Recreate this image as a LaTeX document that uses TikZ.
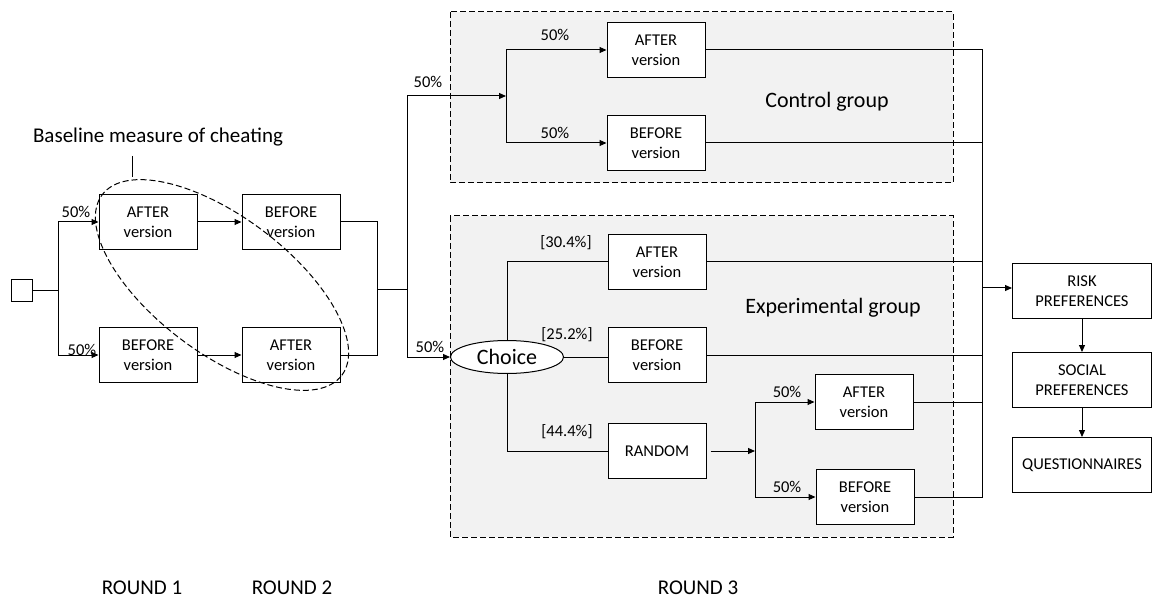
\documentclass[tikz,border=0pt]{standalone}
\usepackage{fontspec}
\setmainfont{Carlito}
\usetikzlibrary{arrows.meta,shapes.geometric}

\begin{document}
\begin{tikzpicture}[x=1pt,y=-1pt,line width=1pt,
  box/.style={draw,fill=white,align=center,minimum width=98pt,minimum height=55pt,inner sep=1pt,font=\fontsize{16.5}{20}\selectfont},
  pct/.style={font=\fontsize{16.5}{20}\selectfont},
  big/.style={font=\fontsize{22}{26}\selectfont},
  rnd/.style={font=\fontsize{21}{25}\selectfont},
  group/.style={draw,dash pattern=on 6pt off 3pt,fill=black!5},
  arr/.style={-{Triangle[length=7pt,width=6pt]}}]
\useasboundingbox (0,0) rectangle (1153,601);

% groups of round 3
\draw[group] (450,12) rectangle (953,183);
\draw[group] (450,216) rectangle (953,537);
\draw (827,102) node[big] (CtrlT) {Control group};
\draw (833,308) node[big] (ExpT) {Experimental group};

% rounds 1 and 2
\draw (22,291) node[draw,minimum width=21pt,minimum height=22pt] (S) {};
\draw (148,222) node[box] (A1) {AFTER\\version};
\draw (291,222) node[box] (B2) {BEFORE\\version};
\draw (148,355) node[box] (B1) {BEFORE\\version};
\draw (291,355) node[box] (A2) {AFTER\\version};
\coordinate (F1) at (58,291);
\coordinate (M1) at (377,290);
\coordinate (F2) at (407,290);

% control group
\draw (656,50) node[box] (CA) {AFTER\\version};
\draw (656,143) node[box] (CB) {BEFORE\\version};
\coordinate (CF) at (506,96);

% experimental group
\draw (507,357) node[draw,ellipse,fill=white,minimum width=113pt,minimum height=33pt,inner sep=0pt,big] (Ch) {Choice};
\draw (657,262) node[box] (EA) {AFTER\\version};
\draw (657,355) node[box] (EB) {BEFORE\\version};
\draw (657,451) node[box] (ER) {RANDOM};
\draw (864,402) node[box] (RA) {AFTER\\version};
\draw (865,497) node[box] (RB) {BEFORE\\version};
\coordinate (G) at (755,451);

% end of the session
\draw (1082,291) node[box,minimum width=139pt] (Risk) {RISK\\PREFERENCES};
\draw (1082,380) node[box,minimum width=139pt] (Soc) {SOCIAL\\PREFERENCES};
\draw (1082,465) node[box,minimum width=139pt] (Qu) {QUESTIONNAIRES};
\coordinate (R) at (982,288);

% percentages
\draw (76,212) node[pct] {50\%};
\draw (82,350) node[pct] {50\%};
\draw (428,82) node[pct] {50\%};
\draw (430,347) node[pct] {50\%};
\draw (555,35) node[pct] {50\%};
\draw (555,133) node[pct] {50\%};
\draw (566,243) node[pct] {[30.4\%]};
\draw (567,335) node[pct] {[25.2\%]};
\draw (567,432) node[pct] {[44.4\%]};
\draw (787,392) node[pct] {50\%};
\draw (787,487) node[pct] {50\%};

% connectors
\draw (S) -- (F1);
\draw[arr] (F1) |- (A1.west);
\draw[arr] (F1) |- (B1.west);
\draw[arr] (A1) -- (B2);
\draw[arr] (B1) -- (A2);
\draw (B2.east) -| (M1);
\draw (A2.east) -| (M1);
\draw (M1) -- (F2);
\draw[arr] (F2) |- (CF);
\draw[arr] (F2) |- (Ch.west);
\draw[arr] (CF) |- (CA.west);
\draw[arr] (CF) |- (CB.west);
\draw (Ch.north) |- (EA.west);
\draw (Ch.east) -- (Ch.east -| EB.west);
\draw (Ch.south) |- (ER.west);
\draw[arr,shorten <=4pt] (ER.east) -- (G);
\draw[arr] (G) |- (RA.west);
\draw[arr] (G) |- (RB.west);
\draw (CA.east) -| (R);
\draw (RB.east) -| (R);
\draw (CB.east) -- (CB.east -| R);
\draw (EA.east) -- (EA.east -| R);
\draw (EB.east) -- (EB.east -| R);
\draw (RA.east) -- (RA.east -| R);
\draw[arr] (R) -- (Risk.west |- R);
\draw[arr] (Risk) -- (Soc);
\draw[arr] (Soc) -- (Qu);

% baseline measure
\draw (158,137) node[font=\fontsize{21}{25}\selectfont] (BaseT) {Baseline measure of cheating};
\coordinate (P1) at (132,156);
\coordinate (P2) at (132,177);
\draw (P1) -- (P2);
\draw (222,285) node[draw,ellipse,dash pattern=on 6pt off 3pt,minimum width=300pt,minimum height=136pt,rotate=-37] (Base) {};

% rounds
\draw (142,588) node[rnd] {ROUND 1};
\draw (292,588) node[rnd] {ROUND 2};
\draw (698,588) node[rnd] {ROUND 3};
\end{tikzpicture}
\end{document}
